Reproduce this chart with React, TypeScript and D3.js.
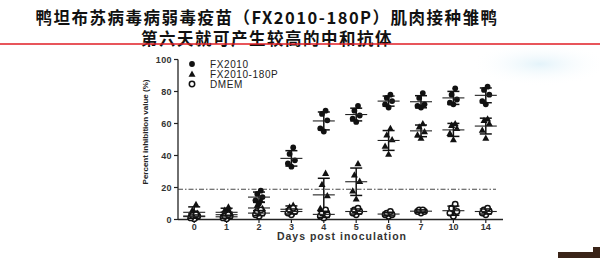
import React from "react";
import * as d3 from "d3";

const days = ["0", "1", "2", "3", "4", "5", "6", "7", "10", "14"];
const fx2010 = [
  [0.5, 1.5, 2, 3, 4],
  [1, 2, 3, 4, 5],
  [10, 12, 14, 16, 18],
  [33, 35, 37, 41, 45],
  [55, 57, 62, 66, 68],
  [61, 63, 65, 68, 71],
  [70, 72, 74, 76, 78],
  [70, 71, 72, 76, 79],
  [72, 73, 75, 78, 82],
  [72, 74, 78, 81, 83],
];
const fx180p = [
  [1, 2, 4, 6, 9.5],
  [1.5, 3, 4, 6, 8],
  [3, 5, 7, 9, 12],
  [4, 5, 6, 8, 9],
  [4, 7, 15, 22, 29],
  [13, 18, 24, 28, 35],
  [41, 46, 50, 53, 57],
  [51, 53, 55, 58, 60],
  [50, 54, 57, 59, 60],
  [51, 56, 60, 62, 63],
];
const dmem = [
  [0.5, 1, 2, 2.5, 3],
  [0.5, 1, 2, 2, 3],
  [2, 3, 4, 5, 6],
  [3, 4, 5, 6, 7],
  [1, 2, 3, 4, 6],
  [3, 4, 5, 6, 7],
  [2, 3, 3, 4, 5],
  [4, 5, 5, 6, 6],
  [2, 4, 5, 7, 9.5],
  [3, 4, 5, 6, 7],
];
const yTicks = [0, 20, 40, 60, 80, 100];
const cutoff = 18.9;
const seriesNames = ["FX2010", "FX2010-180P", "DMEM"];
const titleLines = [
  "鸭坦布苏病毒病弱毒疫苗（FX2010-180P）肌肉接种雏鸭",
  "第六天就可产生较高的中和抗体",
];

const jitter = [0, -3.5, 3.5, -1.8, 1.8];

function Marker({ kind, x, y }: { kind: number; x: number; y: number }) {
  if (kind === 0) return <circle cx={x} cy={y} r={2.9} fill="#111" />;
  if (kind === 1) {
    const s = 3.5;
    return (
      <path
        d={`M${x},${y - s}L${x + s},${y + s * 0.8}L${x - s},${y + s * 0.8}Z`}
        fill="#111"
      />
    );
  }
  return <circle cx={x} cy={y} r={2.7} fill="#fff" stroke="#111" strokeWidth={1.5} />;
}

export default function App() {
  const W = 600,
    H = 258;
  const x = d3.scaleBand<string>().domain(days).range([178, 502]);
  const y = d3.scaleLinear().domain([0, 100]).range([219.5, 59.5]);
  const all = [fx2010, fx180p, dmem];
  const cx = (d: string) => (x(d) as number) + x.bandwidth() / 2;

  return (
    <svg
      width={W}
      height={H}
      style={{ position: "absolute", left: 0, top: 0, background: "#fff" }}
      fontFamily="'Liberation Sans', Arial, sans-serif"
    >
      <rect width={W} height={H} fill="#fff" />
      <defs>
        <radialGradient id="blob" cx="0.5" cy="0.5" r="0.5">
          <stop offset="0%" stopColor="#d8eef8" stopOpacity={0.7} />
          <stop offset="100%" stopColor="#ffffff" stopOpacity={0} />
        </radialGradient>
      </defs>
      <ellipse cx={540} cy={64} rx={70} ry={22} fill="url(#blob)" />
      {titleLines.map((t, i) => (
        <text
          key={i}
          x={267}
          y={23.5 + i * 21}
          textAnchor="middle"
          fontSize={16.5}
          letterSpacing={1.5}
          fontWeight="bold"
          fontFamily="'Noto Sans CJK SC', sans-serif"
          fill="#111"
        >
          {t}
        </text>
      ))}
      <line x1={0} x2={600} y1={44} y2={44} stroke="#e01c24" strokeWidth={1.4} />

      {/* axes */}
      <line x1={178} x2={178} y1={y(100)} y2={y(0)} stroke="#222" strokeWidth={1.3} />
      <line x1={178} x2={503} y1={y(0)} y2={y(0)} stroke="#222" strokeWidth={1.3} />
      {yTicks.map((t) => (
        <g key={t}>
          <line x1={174} x2={178} y1={y(t)} y2={y(t)} stroke="#222" strokeWidth={1.2} />
          <text
            x={172}
            y={y(t) + 3.2}
            textAnchor="end"
            fontSize={9}
            letterSpacing={0.4}
            fontWeight="bold"
            fill="#333"
          >
            {t}
          </text>
        </g>
      ))}
      {days.map((d) => (
        <g key={d}>
          <line x1={cx(d)} x2={cx(d)} y1={y(0)} y2={y(0) + 3.5} stroke="#222" strokeWidth={1.2} />
          <text x={cx(d)} y={229.5} textAnchor="middle" fontSize={9} fontWeight="bold" fill="#333">
            {d}
          </text>
        </g>
      ))}
      <text
        x={342}
        y={240}
        textAnchor="middle"
        fontSize={10.5}
        letterSpacing={1}
        fontWeight="bold"
        fill="#333"
      >
        Days post inoculation
      </text>
      <text
        transform={`translate(148,132) rotate(-90)`}
        textAnchor="middle"
        fontSize={8}
        fontWeight="bold"
        fill="#222"
      >
        Percent inhibition value (%)
      </text>

      {/* cutoff */}
      <line
        x1={178}
        x2={496}
        y1={y(cutoff)}
        y2={y(cutoff)}
        stroke="#333"
        strokeWidth={0.9}
        strokeDasharray="5 2 1.5 2"
      />

      {/* data */}
      {all.map((series, si) =>
        series.map((vals, di) => {
          const d = days[di];
          const c = cx(d);
          const m = d3.mean(vals) as number;
          const sd = d3.deviation(vals) as number;
          return (
            <g key={`${si}-${di}`}>
              {vals.map((v, k) => (
                <Marker key={k} kind={si} x={c + jitter[k]} y={y(v)} />
              ))}
              <line x1={c} x2={c} y1={y(m + sd)} y2={y(Math.max(0, m - sd))} stroke="#111" strokeWidth={1.5} />
              <line x1={c - 6} x2={c + 6} y1={y(m + sd)} y2={y(m + sd)} stroke="#111" strokeWidth={1.5} />
              <line
                x1={c - 6}
                x2={c + 6}
                y1={y(Math.max(0, m - sd))}
                y2={y(Math.max(0, m - sd))}
                stroke="#111"
                strokeWidth={1.5}
              />
              <line x1={c - 11} x2={c + 11} y1={y(m)} y2={y(m)} stroke="#222" strokeWidth={1.1} />
            </g>
          );
        })
      )}

      {/* legend */}
      {seriesNames.map((n, i) => (
        <g key={n}>
          <Marker kind={i} x={192} y={64 + i * 10} />
          <text x={210} y={67.8 + i * 10} fontSize={10} letterSpacing={0.6} fill="#222">
            {n}
          </text>
        </g>
      ))}

      <path d="M558,252H593V247H600V258H558Z" fill="#3a2418" />
    </svg>
  );
}
